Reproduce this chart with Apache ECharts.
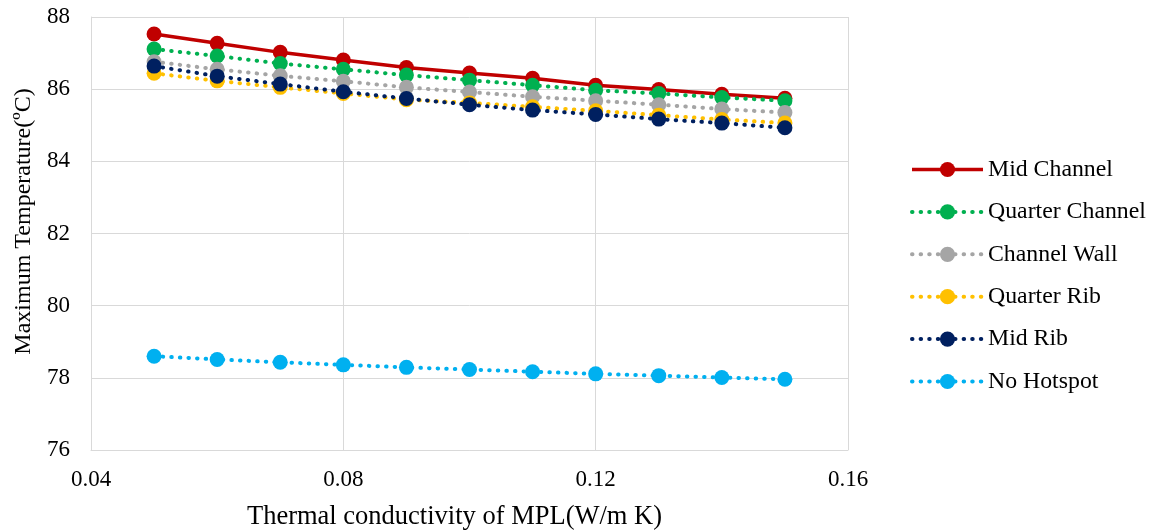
<!DOCTYPE html>
<html>
<head>
<meta charset="utf-8">
<script src="https://cdn.jsdelivr.net/npm/echarts@6/dist/echarts.min.js"></script>
<style>html,body{margin:0;padding:0;background:#fff;}#chart{width:1150px;height:531px;}</style>
</head>
<body>
<div id="chart"></div>
<script>
const xValues = [0.05, 0.06, 0.07, 0.08, 0.09, 0.10, 0.11, 0.12, 0.13, 0.14, 0.15];
const midChannel     = [87.53, 87.27, 87.02, 86.81, 86.60, 86.45, 86.30, 86.11, 85.99, 85.86, 85.75];
const quarterChannel = [87.11, 86.92, 86.71, 86.55, 86.39, 86.25, 86.11, 85.97, 85.88, 85.77, 85.68];
const channelWall    = [86.76, 86.55, 86.37, 86.22, 86.05, 85.92, 85.79, 85.68, 85.57, 85.45, 85.35];
const quarterRib     = [86.44, 86.23, 86.05, 85.88, 85.71, 85.62, 85.51, 85.40, 85.28, 85.16, 85.06];
const midRib         = [86.64, 86.36, 86.14, 85.93, 85.74, 85.57, 85.42, 85.30, 85.17, 85.06, 84.93];
const noHotspot      = [78.60, 78.51, 78.43, 78.36, 78.29, 78.23, 78.17, 78.11, 78.06, 78.01, 77.96];
const seriesNames = ['Mid Channel', 'Quarter Channel', 'Channel Wall', 'Quarter Rib', 'Mid Rib', 'No Hotspot'];
const seriesData = [midChannel, quarterChannel, channelWall, quarterRib, midRib, noHotspot];
const colors = ['#C00000', '#00B050', '#A5A5A5', '#FFC000', '#002060', '#00B0F0'];
const dashed = [false, true, true, true, true, true];

const FONT = '"Liberation Serif", "Times New Roman", serif';
const chart = echarts.init(document.getElementById('chart'), null, {renderer: 'canvas'});

function lineStyleFor(i) {
  return dashed[i]
    ? {color: colors[i], width: 4, type: [0.5, 8.1], cap: 'round'}
    : {color: colors[i], width: 3.5, type: 'solid'};
}

const series = seriesNames.map((name, i) => ({
  name: name,
  type: 'line',
  data: xValues.map((x, j) => [x, seriesData[i][j]]),
  symbol: 'circle',
  symbolSize: 15,
  itemStyle: {color: colors[i]},
  lineStyle: lineStyleFor(i),
  emphasis: {disabled: true},
  animation: false,
  z: 2 + i
}));

chart.setOption({
  animation: false,
  grid: {left: 91, right: 302, top: 17, bottom: 81, containLabel: false, outerBoundsMode: 'none'},
  legend: {
    orient: 'vertical',
    left: 905,
    top: 152.5,
    padding: 5,
    itemWidth: 71,
    itemHeight: 19,
    itemGap: 18.4,
    textStyle: {fontFamily: FONT, fontSize: 23.8, color: '#000'},
    data: seriesNames.map((name, i) => ({
      name: name,
      itemStyle: {color: colors[i]},
      lineStyle: lineStyleFor(i)
    }))
  },
  xAxis: {
    type: 'value',
    min: 0.04,
    max: 0.16,
    interval: 0.04,
    name: 'Thermal conductivity of MPL(W/m K)',
    nameLocation: 'middle',
    nameGap: 54,
    nameTextStyle: {fontFamily: FONT, fontSize: 26.5, color: '#000', padding: [0, 30, 0, 0]},
    axisLine: {show: true, lineStyle: {color: '#D9D9D9', width: 1}},
    axisTick: {show: false},
    axisLabel: {fontFamily: FONT, fontSize: 23, color: '#000', margin: 18,
      formatter: v => v.toFixed(2)},
    splitLine: {show: true, lineStyle: {color: '#D9D9D9', width: 1}}
  },
  yAxis: {
    type: 'value',
    min: 76,
    max: 88,
    interval: 2,
    name: 'Maximum Temperature(\u00BAC)',
    nameLocation: 'middle',
    nameGap: 55,
    nameTextStyle: {fontFamily: FONT, fontSize: 24, color: '#000', padding: [0, 0, 0, 24]},
    axisLine: {show: true, lineStyle: {color: '#D9D9D9', width: 1}},
    axisTick: {show: false},
    axisLabel: {fontFamily: FONT, fontSize: 23, color: '#000', margin: 21},
    splitLine: {show: true, lineStyle: {color: '#D9D9D9', width: 1}}
  },
  series: series
});
</script>
</body>
</html>
